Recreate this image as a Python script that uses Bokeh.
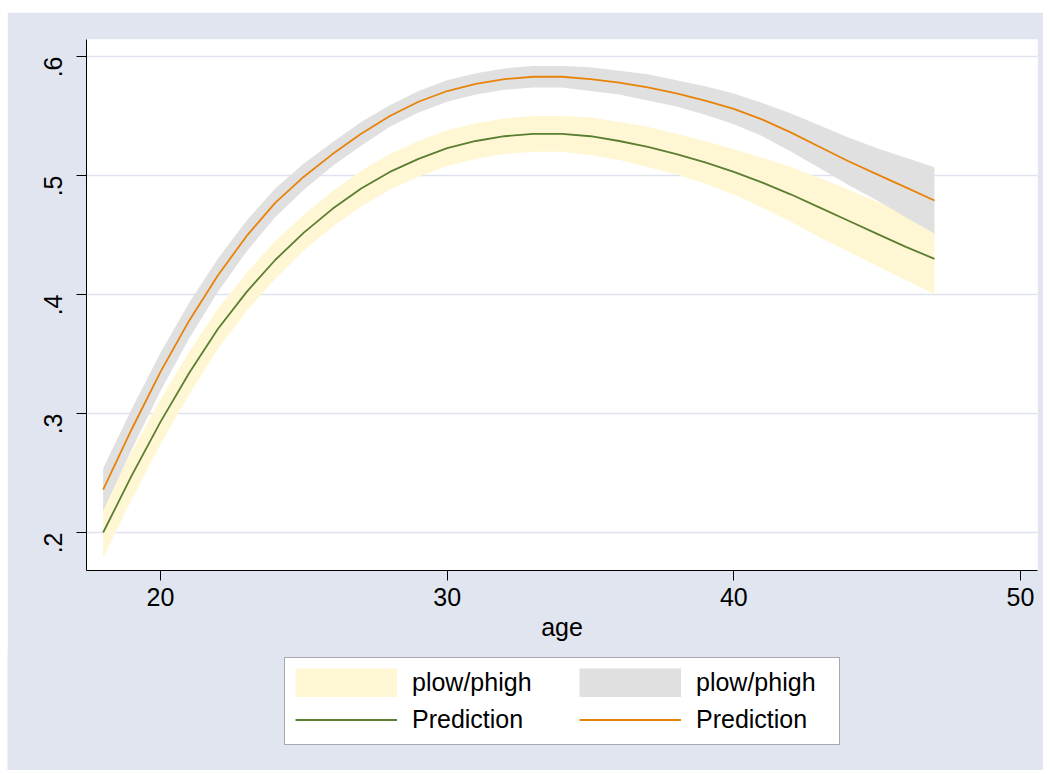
import math
from bokeh.plotting import figure
from bokeh.models import Range1d, FixedTicker, Legend, LegendItem, Spacer, BoxAnnotation
from bokeh.layouts import column, row
from bokeh.embed import file_html
from bokeh.resources import INLINE

# ---- data ----
age = [18, 19, 20, 21, 22, 23, 24, 25, 26, 27, 28, 29, 30, 31, 32,
       33, 34, 35, 36, 37, 38, 39, 40, 41, 42, 43, 44, 45, 46, 47]

pred_green = [0.200, 0.248, 0.293, 0.334, 0.371, 0.402, 0.429, 0.452, 0.472, 0.489,
              0.503, 0.514, 0.523, 0.529, 0.533, 0.535, 0.535, 0.533, 0.529, 0.524,
              0.518, 0.511, 0.503, 0.494, 0.484, 0.473, 0.462, 0.451, 0.440, 0.430]
plow_green = [0.179, 0.228, 0.274, 0.316, 0.354, 0.386, 0.413, 0.437, 0.457, 0.474,
              0.488, 0.499, 0.508, 0.514, 0.518, 0.520, 0.520, 0.517, 0.513, 0.507,
              0.501, 0.493, 0.484, 0.473, 0.461, 0.448, 0.436, 0.424, 0.412, 0.400]
phigh_green = [0.221, 0.268, 0.312, 0.352, 0.388, 0.418, 0.445, 0.467, 0.487, 0.504,
               0.518, 0.529, 0.538, 0.544, 0.548, 0.550, 0.550, 0.549, 0.545, 0.541,
               0.535, 0.529, 0.522, 0.515, 0.507, 0.498, 0.488, 0.478, 0.468, 0.460]

pred_orange = [0.236, 0.287, 0.335, 0.378, 0.416, 0.449, 0.477, 0.499, 0.518, 0.535,
               0.550, 0.562, 0.571, 0.577, 0.581, 0.583, 0.583, 0.581, 0.578, 0.574,
               0.569, 0.563, 0.556, 0.547, 0.536, 0.524, 0.512, 0.501, 0.490, 0.479]
plow_orange = [0.218, 0.270, 0.319, 0.363, 0.402, 0.436, 0.465, 0.488, 0.508, 0.525,
               0.541, 0.553, 0.562, 0.568, 0.572, 0.574, 0.574, 0.571, 0.568, 0.563,
               0.558, 0.551, 0.543, 0.533, 0.520, 0.506, 0.492, 0.479, 0.465, 0.451]
phigh_orange = [0.254, 0.304, 0.351, 0.393, 0.430, 0.462, 0.489, 0.510, 0.528, 0.545,
                0.559, 0.571, 0.580, 0.586, 0.590, 0.592, 0.592, 0.591, 0.588, 0.585,
                0.580, 0.575, 0.569, 0.561, 0.552, 0.542, 0.532, 0.523, 0.515, 0.507]

x_ticks = [20, 30, 40, 50]
y_ticks = [0.2, 0.3, 0.4, 0.5, 0.6]
y_tick_labels = [".2", ".3", ".4", ".5", ".6"]
band_label = "plow/phigh"
line_label = "Prediction"
x_title = "age"

# ---- styling ----
BG = "#E1E5EF"
GRID = "#DFE3EE"
YELLOW = "#FFF7D4"
GREY = "#E0E0E0"
GREEN = "#5A7E32"
ORANGE = "#E8830A"
FONT = "Liberation Sans"
FS = "25px"
FULL_W = 1036

p = figure(frame_width=951, frame_height=531,
           min_border_left=79, min_border_right=6, min_border_top=27, min_border_bottom=80,
           x_range=Range1d(17.419, 50.593), y_range=Range1d(0.16807, 0.61429),
           output_backend="svg", toolbar_location=None,
           background_fill_color="white", border_fill_color=BG,
           outline_line_color=None)

r_yel = p.varea(x=age, y1=plow_green, y2=phigh_green, fill_color=YELLOW, fill_alpha=1)
l_grn = p.line(x=age, y=pred_green, line_color=GREEN, line_width=1.8)
r_gry = p.varea(x=age, y1=plow_orange, y2=phigh_orange, fill_color=GREY, fill_alpha=1)
l_org = p.line(x=age, y=pred_orange, line_color=ORANGE, line_width=1.8)

# axes
xa = p.xaxis[0]
xa.ticker = FixedTicker(ticks=x_ticks)
xa.axis_label = x_title
ya = p.yaxis[0]
ya.ticker = FixedTicker(ticks=y_ticks)
ya.major_label_overrides = {t: s for t, s in zip(y_ticks, y_tick_labels)}
ya.major_label_orientation = math.pi / 2

for ax in (xa, ya):
    ax.axis_line_color = "black"
    ax.axis_line_width = 1
    ax.major_tick_line_color = "black"
    ax.major_tick_in = 0
    ax.major_tick_out = 10
    ax.minor_tick_line_color = None
    ax.major_label_text_font = FONT
    ax.major_label_text_font_size = FS
    ax.major_label_text_color = "black"
    ax.axis_label_text_font = FONT
    ax.axis_label_text_font_size = FS
    ax.axis_label_text_font_style = "normal"
    ax.axis_label_text_color = "black"

xa.major_label_standoff = 7
xa.axis_label_standoff = 4
ya.major_label_standoff = 23

p.xgrid.grid_line_color = None
p.ygrid.grid_line_color = GRID
p.ygrid.grid_line_width = 1.5
p.ygrid.ticker = FixedTicker(ticks=y_ticks)

# ---- legend strip (separate panel below the plot, same background) ----
LEG_H = 121
q = figure(frame_width=FULL_W, frame_height=LEG_H,
           min_border_left=0, min_border_right=0, min_border_top=0, min_border_bottom=0,
           x_range=Range1d(0, FULL_W), y_range=Range1d(0, LEG_H),
           x_axis_type=None, y_axis_type=None,
           output_backend="svg", toolbar_location=None,
           background_fill_color=BG, border_fill_color=BG, outline_line_color=None,
           styles={"margin-top": "-1px"})
q.xgrid.visible = False
q.ygrid.visible = False
# an off-screen range so the legend's source renderers are not drawn in this strip
q.extra_x_ranges = {"off": Range1d(1000, 2000)}

q.add_layout(BoxAnnotation(left=277, right=832, bottom=26, top=113,
                           fill_color="white", fill_alpha=1,
                           line_color="black", line_width=1))

# band entries use a thick line so the legend swatch fills the whole glyph box
d_yel = q.line(x=age, y=plow_green, line_color=YELLOW, line_width=29, x_range_name="off")
d_gry = q.line(x=age, y=plow_orange, line_color=GREY, line_width=29, x_range_name="off")
d_grn = q.line(x=age, y=pred_green, line_color=GREEN, line_width=1.8, x_range_name="off")
d_org = q.line(x=age, y=pred_orange, line_color=ORANGE, line_width=1.8, x_range_name="off")

legend = Legend(items=[
    LegendItem(label=band_label, renderers=[d_yel]),
    LegendItem(label=band_label, renderers=[d_gry]),
    LegendItem(label=line_label, renderers=[d_grn]),
    LegendItem(label=line_label, renderers=[d_org]),
], orientation="horizontal", ncols=2, location=(288, 36))
legend.glyph_width = 102
legend.glyph_height = 29
legend.label_height = 29
legend.label_width = 159
legend.label_standoff = 15
legend.spacing = 8
legend.padding = 11
legend.margin = 0
legend.label_text_font = FONT
legend.label_text_font_size = FS
legend.label_text_color = "black"
legend.border_line_color = None
legend.background_fill_alpha = 0
q.add_layout(legend, "center")

layout = column(Spacer(height=12), row(Spacer(width=7), p), row(Spacer(width=7), q))
open("out.html", "w").write(file_html(layout, INLINE))
